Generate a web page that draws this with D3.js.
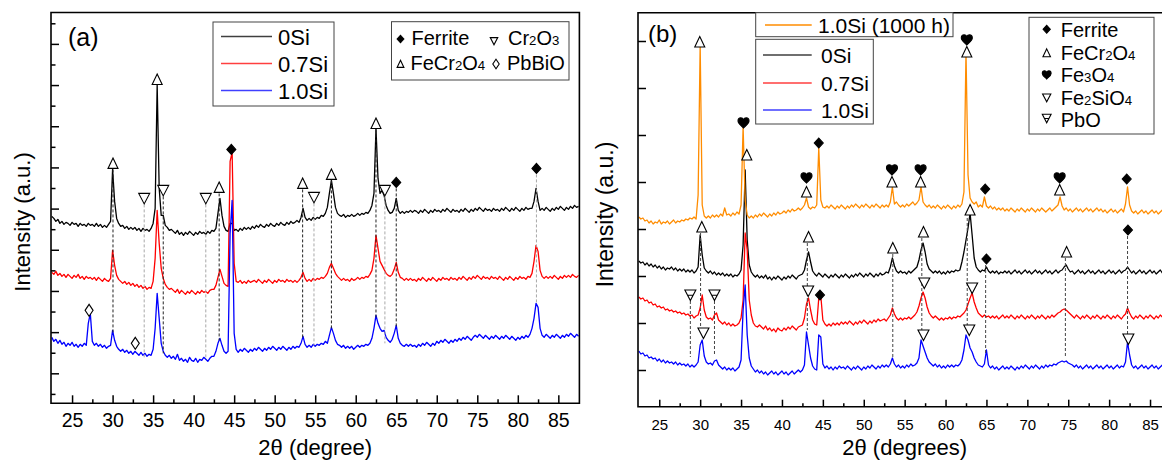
<!DOCTYPE html>
<html>
<head>
<meta charset="utf-8">
<script src="https://cdn.jsdelivr.net/npm/d3@7"></script>
<style>
  body { margin: 0; background: #fff; }
  svg { display: block; }
</style>
</head>
<body>
<svg id="chart" width="1162" height="464"></svg>
<script>
// ---------------------------------------------------------------------------
// XRD patterns, 2θ step scan from 22.5° to 87.5° (0.25° step).
// Each pattern is stored in rows of 20 points (5° per row); the last row
// holds the single point at 87.5°. Intensities are stacked, arbitrary units.
// ---------------------------------------------------------------------------
const thetaStart = 22.5;
const thetaStep = 0.25;
const rowSpan = 5;
const thetaDomain = [22.4, 87.6];
const xTickValues = [25, 30, 35, 40, 45, 50, 55, 60, 65, 70, 75, 80, 85];
const xMinorValues = [27.5, 32.5, 37.5, 42.5, 47.5, 52.5, 57.5, 62.5, 67.5, 72.5, 77.5, 82.5];

// Panel (a): as-exposed samples
const a0Si = [
  [157,155,152,154,150,152,149,151,150,148,151,149,150,147,150,148,149,147,150,148],
  [149,147,150,147,149,146,148,146,149,152,204,172,155,150,147,148,145,147,144,146],
  [144,146,143,145,142,145,143,144,142,145,150,165,289,185,158,158,148,146,143,144],
  [142,140,143,139,141,138,141,139,142,140,138,141,139,142,140,141,139,142,140,143],
  [142,145,160,175,158,147,143,142,150,150,143,144,142,145,143,146,144,146,144,147],
  [145,148,146,149,147,146,149,147,150,148,147,150,148,151,149,148,151,149,152,150],
  [151,153,151,156,165,156,153,155,153,156,154,156,155,158,157,160,166,180,193,180],
  [166,160,158,157,159,156,158,157,159,157,158,160,158,160,159,161,160,163,168,180],
  [245,195,180,183,178,168,163,160,161,165,175,163,160,162,160,162,161,163,161,163],
  [162,160,163,161,164,162,160,163,161,164,162,163,161,164,162,165,163,161,164,162],
  [163,161,164,162,165,163,161,164,162,165,163,166,164,162,165,163,164,162,165,163],
  [164,162,165,163,166,164,162,165,163,166,164,162,165,163,166,164,165,165,172,185],
  [172,163,165,163,166,164,162,165,163,166,164,167,165,163,166,164,167,165,168,166],
  [167]
];
const a07Si = [
  [101,99,102,98,100,97,99,96,99,97,95,98,96,99,95,97,94,97,95,96],
  [94,96,93,96,94,92,95,93,92,95,123,108,98,94,92,90,92,89,91,88],
  [90,87,89,86,88,85,87,84,86,85,92,115,163,130,105,95,89,86,84,85],
  [83,81,84,80,83,81,79,82,80,83,81,79,82,80,83,81,82,80,83,84],
  [84,88,96,104,97,90,88,87,212,221,110,92,91,93,90,92,90,93,91,92],
  [93,91,94,92,90,93,91,94,92,90,93,91,94,92,93,91,94,92,93,91],
  [93,91,93,96,101,95,92,94,92,95,93,95,94,96,95,97,100,106,110,105],
  [100,97,95,93,95,93,94,92,95,93,94,96,94,96,95,97,96,99,103,115],
  [138,125,112,108,104,100,98,97,99,104,111,101,96,95,93,95,93,95,93,94],
  [92,95,93,96,94,92,95,93,96,94,92,95,93,96,94,95,93,96,94,95],
  [93,96,94,97,95,93,96,94,97,95,98,96,94,97,95,96,94,97,95,96],
  [94,97,95,93,96,94,97,95,93,96,94,97,95,96,94,97,96,100,112,128],
  [122,103,97,95,97,95,97,95,98,96,94,97,95,98,96,98,96,99,97,96],
  [98]
];
const a10Si = [
  [36,32,34,30,33,29,31,27,30,28,31,27,29,26,29,27,30,28,50,60],
  [32,28,30,27,29,26,28,25,27,28,43,33,27,24,22,24,21,23,20,22],
  [19,22,20,18,21,18,20,17,19,18,24,45,80,55,30,22,18,16,18,15],
  [17,14,19,13,15,12,14,11,16,13,12,15,11,14,13,16,14,12,15,17],
  [17,22,30,35,28,22,20,22,140,173,40,24,21,24,22,25,23,21,24,22],
  [25,23,26,24,22,25,23,26,24,27,25,23,26,24,27,25,23,26,24,27],
  [25,27,26,30,37,29,26,28,26,29,27,29,28,30,29,32,30,38,46,40],
  [33,29,28,26,28,25,27,25,27,24,26,28,26,28,27,29,28,30,35,45],
  [58,50,45,42,43,36,33,31,34,40,48,35,30,28,27,29,27,29,27,28],
  [26,29,27,30,28,31,29,27,30,28,32,30,33,31,34,32,30,33,31,34],
  [32,35,33,36,34,37,35,33,36,38,36,39,37,35,38,36,34,37,35,38],
  [36,34,37,35,38,36,34,37,35,33,36,34,37,35,38,36,39,45,55,70],
  [66,45,38,36,39,37,35,38,36,39,37,35,38,36,39,37,40,38,36,39],
  [37]
];

// Panel (b): 1.0Si after 1000 h plus the three short-exposure patterns
const b10Si1000h = [
  [153,151,152,149,150,147,149,146,148,147,150,146,148,147,149,146,148,150,147,149],
  [148,150,149,151,150,152,151,153,151,175,325,165,154,152,154,152,155,153,155,153],
  [156,154,162,155,156,154,157,155,158,156,165,243,170,155,152,154,152,155,153,156],
  [154,157,155,153,156,154,157,155,158,156,157,159,157,160,158,161,159,160,162,160],
  [162,165,172,163,161,163,162,165,222,170,163,162,164,162,165,163,161,164,162,165],
  [163,161,164,162,165,163,166,164,162,165,163,166,164,162,165,163,166,164,162,165],
  [163,165,163,168,183,166,168,165,163,165,163,166,164,166,168,165,167,170,183,168],
  [165,163,165,162,164,162,165,163,161,164,162,165,163,161,164,162,165,163,166,178],
  [318,195,172,168,166,168,163,165,163,173,164,162,164,161,163,160,162,160,162,159],
  [161,159,162,160,158,161,159,162,160,158,161,159,162,160,158,161,159,162,160,158],
  [160,162,159,161,163,165,173,164,160,162,159,161,158,160,162,159,161,158,160,162],
  [159,161,158,160,162,159,161,158,160,157,159,161,158,160,157,159,161,158,166,183],
  [165,159,157,159,156,158,160,157,159,156,158,160,157,159,156,158,160,157,159,156],
  [158]
];
const b0Si = [
  [109,107,108,105,107,104,106,103,105,102,104,101,103,100,102,101,103,100,102,99],
  [101,99,101,98,100,98,100,97,99,103,135,115,102,99,97,99,96,98,95,97],
  [95,97,94,96,94,96,93,95,94,96,100,125,200,130,105,98,95,93,95,92],
  [94,92,95,91,93,90,93,91,94,92,90,93,91,94,92,95,93,91,94,95],
  [96,100,110,118,108,99,96,94,97,95,93,96,94,92,95,93,96,94,92,95],
  [93,96,94,92,95,93,96,94,97,95,93,96,94,97,95,93,96,94,97,95],
  [96,98,97,103,112,104,99,97,99,97,98,96,99,97,99,101,103,110,120,127],
  [118,106,101,99,97,99,97,99,96,98,96,99,97,99,98,100,99,100,108,118],
  [130,142,157,135,112,103,100,98,100,99,103,99,97,99,97,99,96,98,97,99],
  [97,99,96,98,100,97,99,96,98,100,97,99,96,98,100,97,99,96,98,100],
  [97,99,96,98,100,97,99,100,103,105,101,98,99,96,98,100,97,99,96,98],
  [100,97,99,96,98,100,97,99,96,98,100,97,99,96,98,100,97,99,100,103],
  [100,97,99,96,98,100,97,99,96,98,100,97,99,96,98,100,97,99,96,98],
  [97]
];
const b07Si = [
  [73,71,72,69,70,67,68,65,66,63,64,62,63,60,61,59,60,58,59,57],
  [58,56,57,55,56,54,55,52,54,55,62,75,60,53,51,52,50,55,57,50],
  [48,46,48,45,47,44,46,44,45,47,52,70,137,120,70,55,47,44,43,45],
  [43,41,44,40,42,39,41,38,42,40,39,42,40,43,41,44,42,40,43,44],
  [45,52,66,72,60,50,46,45,72,74,50,46,44,46,44,47,45,47,45,48],
  [46,48,46,49,47,45,48,46,49,47,50,48,46,49,47,50,48,51,49,50],
  [51,49,52,55,62,56,52,50,52,50,52,51,53,51,53,55,58,64,72,78],
  [72,63,57,54,52,54,52,50,52,50,52,51,53,51,53,52,54,53,55,57],
  [60,66,72,77,68,62,57,55,53,55,53,54,52,54,52,54,51,53,55,52],
  [54,52,55,53,51,54,52,55,53,51,54,52,55,53,51,54,52,55,53,51],
  [54,52,55,53,55,57,58,60,61,60,58,56,54,52,55,53,51,54,52,55],
  [53,51,54,52,55,53,51,54,52,55,53,51,54,52,55,53,51,54,56,62],
  [57,53,51,54,52,55,53,51,54,52,55,53,51,54,52,55,53,51,54,52],
  [53]
];
const b10Si = [
  [19,16,17,14,15,12,13,11,12,9,11,8,10,7,9,7,8,6,8,5],
  [7,5,6,4,6,3,5,3,5,8,25,30,14,8,6,7,5,9,10,5],
  [3,1,3,0,2,0,2,-1,1,3,10,60,85,35,12,4,1,-2,0,-3],
  [-1,-4,-2,-5,-3,-1,-4,-2,-5,-3,-1,-4,-2,-5,-3,-1,-4,-2,0,-2],
  [0,5,38,25,12,4,1,0,35,33,6,2,4,1,3,0,3,1,4,2],
  [3,1,4,2,0,3,1,4,2,0,3,1,4,2,5,3,1,4,2,5],
  [3,5,3,6,12,6,3,5,2,4,2,5,3,6,4,5,7,12,30,24],
  [18,12,8,6,4,6,3,5,2,4,2,5,3,5,3,5,4,6,10,20],
  [35,30,22,18,12,8,5,4,3,6,20,5,2,4,1,3,0,2,4,1],
  [3,1,4,2,0,3,1,4,2,5,3,1,4,2,5,3,1,4,2,5],
  [3,5,4,6,5,7,8,9,8,9,7,6,5,3,5,2,4,1,3,5],
  [2,4,1,3,5,2,4,1,3,5,2,4,1,3,5,2,4,3,8,28],
  [15,5,2,4,1,3,5,2,4,1,3,5,2,4,1,3,5,2,4,1],
  [3]
];

// Series names
const seriesNamesA = ["0Si", "0.7Si", "1.0Si"];
const seriesNamesB = ["0Si", "0.7Si", "1.0Si"];
const agedName = "1.0Si (1000 h)";

// Phase markers: [2θ, intensity, phase]
const markersA = [
  [30.05, 210, "spinel"], [35.5, 294, "spinel"], [43.15, 186, "spinel"],
  [53.45, 190, "spinel"], [57.0, 199, "spinel"], [62.5, 250, "spinel"],
  [33.9, 175, "chromia"], [36.25, 183, "chromia"], [41.5, 175, "chromia"],
  [54.85, 176, "chromia"], [63.6, 183, "chromia"],
  [44.65, 224, "ferrite"], [65.0, 191, "ferrite"], [82.3, 205, "ferrite"],
  [27.1, 63, "pbbio"], [32.8, 30, "pbbio"]
];
// Guide lines: [2θ, top, bottom, dark?]
const guidesA = [
  [30.05, 204, 40, true], [33.9, 169, 16, false], [36.25, 177, 20, true],
  [41.5, 169, 15, false], [43.15, 180, 33, true], [53.45, 184, 35, true],
  [54.85, 170, 28, false], [57.0, 193, 43, true], [62.5, 244, 56, true],
  [63.6, 177, 30, false], [65.0, 185, 46, true], [82.3, 199, 71, false]
];

const markersB = [
  // 1.0Si (1000 h)
  [29.95, 328, "spinel"], [35.3, 247, "magnetite"], [43.0, 178, "spinel"], [43.0, 192, "magnetite"],
  [44.5, 227, "ferrite"], [53.45, 188, "spinel"], [53.45, 200, "magnetite"],
  [56.95, 188, "spinel"], [56.95, 200, "magnetite"], [62.6, 318, "spinel"], [62.6, 330, "magnetite"],
  [64.85, 181, "ferrite"], [73.95, 180, "spinel"], [73.95, 192, "magnetite"], [82.15, 191, "ferrite"],
  // 0Si
  [30.2, 143, "spinel"], [35.7, 215, "spinel"], [43.25, 133, "spinel"], [53.55, 122, "spinel"],
  [57.3, 138, "spinel"], [63.0, 160, "spinel"], [65.0, 111, "ferrite"], [74.8, 118, "spinel"],
  [82.3, 140, "ferrite"],
  // 0.7Si
  [28.8, 75, "pbo"], [31.75, 75, "pbo"], [43.2, 79, "fayalite"], [44.65, 75, "ferrite"],
  [57.4, 87, "fayalite"], [63.25, 82, "fayalite"],
  // 1.0Si
  [30.4, 37, "fayalite"], [57.3, 35, "fayalite"], [62.9, 40, "fayalite"], [82.35, 31, "fayalite"]
];
const guidesB = [
  [28.8, 69, 13, true], [31.75, 69, 15, true], [30.05, 137, 40, true], [43.1, 127, 40, true],
  [53.55, 116, 13, true], [57.1, 132, 40, true], [62.65, 152, 38, true], [64.9, 105, 15, true],
  [74.65, 112, 13, true], [82.25, 134, 36, true]
];

// Legend contents
const phaseLegendA = [["ferrite", "Ferrite"], ["chromia", "Cr2O3"], ["spinel", "FeCr2O4"], ["pbbio", "PbBiO"]];
const phaseLegendB = [["ferrite", "Ferrite"], ["spinel", "FeCr2O4"], ["magnetite", "Fe3O4"], ["fayalite", "Fe2SiO4"], ["pbo", "PbO"]];

// ---------------------------------------------------------------------------
const FONT = '"Liberation Sans", Arial, Helvetica, sans-serif';
const svg = d3.select("#chart");

function toPoints(rows) {
  return rows.flatMap((row, r) => row.map((v, j) => [thetaStart + r * rowSpan + j * thetaStep, v]));
}

// unit glyphs (about 11 px tall at scale 1)
const glyphs = {
  ferrite:  { d: "M0,-5L4.5,0L0,5L-4.5,0Z", fill: "#000" },
  spinel:   { d: "M0,-5.5L5,5L-5,5Z", fill: "#fff" },
  chromia:  { d: "M-5.5,-5L5.5,-5L0,5.5Z", fill: "#fff" },
  fayalite: { d: "M-5.5,-5L5.5,-5L0,5.5Z", fill: "#fff" },
  pbbio:    { d: "M0,-6L4,0L0,6L-4,0Z", fill: "#fff" },
  pbo:      { d: "M-5.5,-5L5.5,-5L0,5.5Z M-2.8,0.3L2.8,0.3", fill: "#fff" },
  magnetite:{ d: "M0,5C-1,3.5 -5.5,1 -5.5,-2C-5.5,-4.3 -4,-5.2 -2.7,-5.2C-1.3,-5.2 -0.4,-4.3 0,-3.2C0.4,-4.3 1.3,-5.2 2.7,-5.2C4,-5.2 5.5,-4.3 5.5,-2C5.5,1 1,3.5 0,5Z", fill: "#000" }
};

function drawGlyph(g, type, cx, cy, k) {
  const s = glyphs[type];
  g.append("path")
    .attr("d", s.d)
    .attr("transform", `translate(${cx},${cy}) scale(${k})`)
    .attr("fill", s.fill)
    .attr("stroke", "#000")
    .attr("stroke-width", 1.1)
    .attr("vector-effect", "non-scaling-stroke");
}

// chemical formula: digits drawn as small subscripts
function formulaText(g, label, x, y, size) {
  const t = g.append("text").attr("x", x).attr("y", y)
    .attr("font-family", FONT).attr("font-size", size).attr("fill", "#000");
  label.match(/\d+|\D+/g).forEach(part => {
    const ts = t.append("tspan").text(part);
    if (/\d/.test(part)) ts.attr("font-size", size * 0.66);
  });
  return t;
}

function drawPanel(p) {
  const x = d3.scaleLinear().domain(thetaDomain).range([p.left, p.right]);
  const y = d3.scaleLinear().domain(p.yDomain).range([p.bottom, p.top]);
  const g = svg.append("g");

  // x axis ticks (inward)
  const gx = g.append("g").attr("transform", `translate(0,${p.bottom})`)
    .call(d3.axisBottom(x).tickValues(xTickValues).tickSize(-p.xMajorLen)
      .tickPadding(p.xPad).tickFormat(d3.format("d")));
  gx.select(".domain").remove();
  gx.selectAll("line").attr("stroke", "#000").attr("stroke-width", 1.5);
  gx.selectAll("text").attr("font-family", FONT).attr("font-size", p.tickFont).attr("fill", "#000");

  const gxm = g.append("g").attr("transform", `translate(0,${p.bottom})`)
    .call(d3.axisBottom(x).tickValues(xMinorValues).tickSize(-p.xMinorLen).tickFormat(""));
  gxm.select(".domain").remove();
  gxm.selectAll("line").attr("stroke", "#000").attr("stroke-width", 1.5);

  // y axis ticks (inward, unlabeled)
  const yMajor = d3.range(0, p.yDomain[1], p.yStep);
  const gy = g.append("g").attr("transform", `translate(${p.left},0)`)
    .call(d3.axisLeft(y).tickValues(yMajor).tickSize(-8).tickFormat(""));
  gy.select(".domain").remove();
  gy.selectAll("line").attr("stroke", "#000").attr("stroke-width", 1.5);
  if (p.yMinor) {
    const yMin = d3.range(-p.yStep / 2, p.yDomain[1], p.yStep).filter(v => v > p.yDomain[0]);
    const gym = g.append("g").attr("transform", `translate(${p.left},0)`)
      .call(d3.axisLeft(y).tickValues(yMin).tickSize(-4.5).tickFormat(""));
    gym.select(".domain").remove();
    gym.selectAll("line").attr("stroke", "#000").attr("stroke-width", 1.5);
  }

  // patterns
  const line = d3.line().x(d => x(d[0])).y(d => y(d[1]));
  p.series.forEach(s => {
    g.append("path").datum(toPoints(s.data))
      .attr("d", line).attr("fill", "none")
      .attr("stroke", s.color).attr("stroke-width", 1.3).attr("stroke-linejoin", "round");
  });

  // guide lines
  p.guides.forEach(([t, top, bot, dark]) => {
    g.append("line")
      .attr("x1", x(t)).attr("x2", x(t)).attr("y1", y(top)).attr("y2", y(bot))
      .attr("stroke", dark ? p.guideDark : "#a8a8a8").attr("stroke-width", 1)
      .attr("stroke-dasharray", "3,2");
  });

  // phase markers
  p.markers.forEach(([t, v, type]) => drawGlyph(g, type, x(t), y(v), 1));

  // frame
  g.append("path").attr("d", p.frame).attr("fill", "none")
    .attr("stroke", "#000").attr("stroke-width", 1.6);

  // axis titles
  g.append("text").attr("x", (p.left + p.right) / 2).attr("y", p.xTitleY)
    .attr("text-anchor", "middle").attr("font-family", FONT).attr("font-size", 22)
    .attr("fill", "#000").text(p.xTitle);
  g.append("text").attr("transform", `translate(${p.yTitleX},${p.yTitleY}) rotate(-90)`)
    .attr("text-anchor", "middle").attr("font-family", FONT).attr("font-size", p.yTitleSize)
    .attr("fill", "#000").text("Intensity (a.u.)");

  // panel letter
  g.append("text").attr("x", p.letterX).attr("y", p.letterY)
    .attr("font-family", FONT).attr("font-size", p.letterSize).attr("fill", "#000").text(p.letter);
  return g;
}

// ---- panel (a) ----
drawPanel({
  left: 51, right: 579.4, top: 12.5, bottom: 403.3,
  yDomain: [-30, 361], yStep: 41.2, yMinor: true,
  xMajorLen: 8, xMinorLen: 4, xPad: 10, tickFont: 19.5,
  series: [
    { data: a0Si, color: "#000000" },
    { data: a07Si, color: "#ff0000" },
    { data: a10Si, color: "#0000ff" }
  ],
  guides: guidesA, guideDark: "#222",
  markers: markersA,
  frame: "M51,12.5H579.4V403.3H51Z",
  xTitle: "2\u03b8 (degree)", xTitleY: 455,
  yTitleX: 30, yTitleY: 222, yTitleSize: 22,
  letter: "(a)", letterX: 68, letterY: 46, letterSize: 25
});

// series legend (a)
{
  const g = svg.append("g");
  g.append("rect").attr("x", 213).attr("y", 22).attr("width", 121).attr("height", 84)
    .attr("fill", "#fff").attr("stroke", "#444").attr("stroke-width", 1);
  const colors = ["#000000", "#ff0000", "#0000ff"];
  const rowsY = [36.5, 63.5, 90.5];
  seriesNamesA.forEach((name, i) => {
    g.append("line").attr("x1", 221).attr("x2", 272).attr("y1", rowsY[i]).attr("y2", rowsY[i])
      .attr("stroke", colors[i]).attr("stroke-width", 1.3).attr("opacity", 0.75);
    g.append("text").attr("x", 278).attr("y", rowsY[i] + 8)
      .attr("font-family", FONT).attr("font-size", 22).attr("fill", "#000").text(name);
  });
}
// phase legend (a)
{
  const g = svg.append("g");
  g.append("rect").attr("x", 391.5).attr("y", 21.7).attr("width", 177.5).attr("height", 58.3)
    .attr("fill", "#fff").attr("stroke", "#444").attr("stroke-width", 1);
  const pos = [[400.5, 39, 411.5, 44.5], [494, 41, 508, 44.5], [400.5, 64, 410.5, 70], [496, 64, 507, 70]];
  const scale = [0.75, 0.68, 0.68, 0.8];
  phaseLegendA.forEach(([type, label], i) => {
    const [sx, sy, tx, ty] = pos[i];
    drawGlyph(g, type, sx, sy, scale[i]);
    formulaText(g, label, tx, ty, 20);
  });
}

// ---- panel (b) ----
drawPanel({
  left: 638, right: 1171.3, top: 12.7, bottom: 406.7,
  yDomain: [-36.7, 357.3], yStep: 47, yMinor: false,
  xMajorLen: 7, xMinorLen: 3.5, xPad: 12.6, tickFont: 15,
  series: [
    { data: b0Si, color: "#000000" },
    { data: b07Si, color: "#ff0000" },
    { data: b10Si, color: "#0000ff" },
    { data: b10Si1000h, color: "#ff8c00" }
  ],
  guides: guidesB, guideDark: "#444",
  markers: markersB,
  frame: "M1171.3,12.7H638V406.7H1171.3",
  xTitle: "2\u03b8 (degrees)", xTitleY: 455,
  yTitleX: 613, yTitleY: 214.5, yTitleSize: 23,
  letter: "(b)", letterX: 648, letterY: 42, letterSize: 24
});

// aged-sample legend (b)
{
  const g = svg.append("g");
  g.append("rect").attr("x", 755.7).attr("y", 12.7).attr("width", 197.3).attr("height", 24)
    .attr("fill", "#fff").attr("stroke", "#444").attr("stroke-width", 1);
  g.append("line").attr("x1", 765).attr("x2", 811.7).attr("y1", 25).attr("y2", 25)
    .attr("stroke", "#ff8c00").attr("stroke-width", 1.4);
  g.append("text").attr("x", 818).attr("y", 33).attr("font-family", FONT)
    .attr("font-size", 21).attr("fill", "#000").text(agedName);
}
// series legend (b)
{
  const g = svg.append("g");
  g.append("rect").attr("x", 755.7).attr("y", 39.3).attr("width", 117.6).attr("height", 84.7)
    .attr("fill", "#fff").attr("stroke", "#444").attr("stroke-width", 1);
  const colors = ["#000000", "#ff0000", "#0000ff"];
  const rowsY = [55, 83, 110];
  seriesNamesB.forEach((name, i) => {
    g.append("line").attr("x1", 763).attr("x2", 811.7).attr("y1", rowsY[i]).attr("y2", rowsY[i])
      .attr("stroke", colors[i]).attr("stroke-width", 1.3).attr("opacity", 0.75);
    g.append("text").attr("x", 821).attr("y", rowsY[i] + 8)
      .attr("font-family", FONT).attr("font-size", 21).attr("fill", "#000").text(name);
  });
}
// phase legend (b)
{
  const g = svg.append("g");
  g.append("rect").attr("x", 1029).attr("y", 17.3).attr("width", 125).attr("height", 116.7)
    .attr("fill", "#fff").attr("stroke", "#444").attr("stroke-width", 1);
  const rowsY = [29.3, 53, 75, 97.7, 118.3];
  const base = [36.5, 59.5, 81.5, 105, 126.5];
  const scale = [0.8, 0.75, 0.8, 0.75, 0.8];
  phaseLegendB.forEach(([type, label], i) => {
    drawGlyph(g, type, 1046.7, rowsY[i], scale[i]);
    formulaText(g, label, 1060.7, base[i], 20);
  });
}
</script>
</body>
</html>
